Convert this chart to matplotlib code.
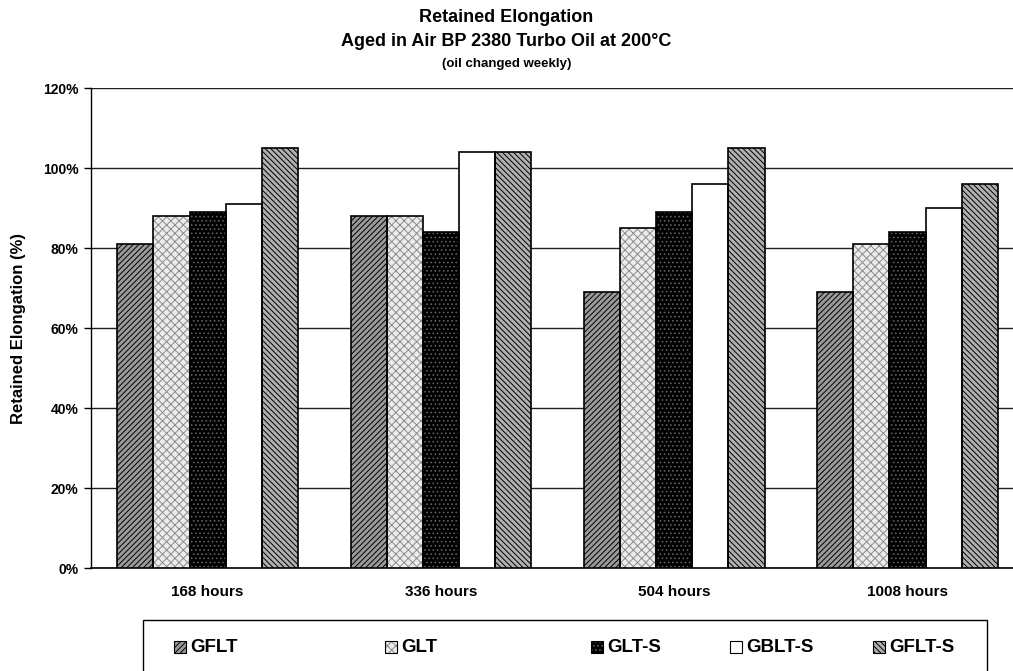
import numpy as np
import matplotlib.pyplot as plt
from matplotlib.patches import Rectangle

plt.rcParams['font.family'] = ['Liberation Sans', 'DejaVu Sans']
plt.rcParams['font.weight'] = 'bold'
plt.rcParams['hatch.linewidth'] = 0.7

# ---- data ----
categories = ["168 hours", "336 hours", "504 hours", "1008 hours"]
series = ["GFLT", "GLT", "GLT-S", "GBLT-S", "GFLT-S"]
gflt   = [81, 88, 69, 69]
glt    = [88, 88, 85, 81]
glt_s  = [89, 84, 89, 84]
gblt_s = [91, 104, 96, 90]
gflt_s = [105, 104, 105, 96]
values = [gflt, glt, glt_s, gblt_s, gflt_s]
yticks = [0, 20, 40, 60, 80, 100, 120]

# ---- styles: (face, hatch, hatch colour) ----
styles = [
    ("#9a9a9a", "//////", "#000000"),
    ("#ececec", "xxxx", "#8c8c8c"),
    ("#000000", "....", "#606060"),
    ("#ffffff", None, "#000000"),
    ("#b0b0b0", "\\\\\\\\\\\\", "#000000"),
]

W, H = 1013, 671
fig = plt.figure(figsize=(W / 100, H / 100), dpi=100)
ax = fig.add_axes([91 / W, 1 - 568 / H, (W - 91) / W, (568 - 88) / H])

x = np.arange(len(categories))
bw = 0.155
for i, (vals, (fc, hatch, hc)) in enumerate(zip(values, styles)):
    pos = x + (i - 2) * bw
    ax.bar(pos, vals, bw, color=fc, hatch=hatch, edgecolor=hc, linewidth=0, zorder=3)
    ax.bar(pos, vals, bw, fill=False, edgecolor="black", linewidth=1.2, zorder=4)

ax.set_xlim(-0.5, -0.5 + (W - 91) / 233.3)
ax.set_ylim(0, 120)
ax.set_yticks(yticks)
ax.set_yticklabels([f"{t}%" for t in yticks])
ax.set_xticks(x)
ax.set_xticklabels(categories)
ax.tick_params(axis="x", length=0, pad=12, labelsize=11)
ax.tick_params(axis="y", length=5, width=1, direction="out", labelsize=10, pad=4)
ax.grid(axis="y", color="#202020", linewidth=1.0, zorder=1)
ax.set_axisbelow(True)
for s in ["top", "right"]:
    ax.spines[s].set_visible(False)
ax.spines["left"].set_linewidth(1.0)
ax.spines["bottom"].set_linewidth(1.2)
ax.set_ylabel("Retained Elongation (%)", fontsize=12, fontweight="bold", labelpad=12)

# ---- titles ----
fig.text(0.5, 1 - 18 / H, "Retained Elongation", ha="center", va="center", fontsize=13, fontweight="bold")
fig.text(0.5, 1 - 42 / H, "Aged in Air BP 2380 Turbo Oil at 200°C", ha="center", va="center", fontsize=13, fontweight="bold")
fig.text(0.5, 1 - 64 / H, "(oil changed weekly)", ha="center", va="center", fontsize=9.5, fontweight="bold")

# ---- legend (manual, uneven spacing as in the original) ----
fig.add_artist(Rectangle((143 / W, -0.01), (987 - 143) / W, 0.01 + 1 - 620 / H,
                         transform=fig.transFigure, fill=False, edgecolor="black", linewidth=1.0))
leg_x = [174, 385, 591, 730, 873]
for lx, name, (fc, hatch, hc) in zip(leg_x, series, styles):
    y0 = 647
    fig.add_artist(Rectangle((lx / W, 1 - (y0 + 6) / H), 12 / W, 12 / H, transform=fig.transFigure,
                             facecolor=fc, hatch=hatch, edgecolor=hc, linewidth=0))
    fig.add_artist(Rectangle((lx / W, 1 - (y0 + 6) / H), 12 / W, 12 / H, transform=fig.transFigure,
                             fill=False, edgecolor="black", linewidth=0.8))
    fig.text((lx + 16) / W, 1 - y0 / H, name, ha="left", va="center", fontsize=13.5, fontweight="bold")

fig.savefig("out.png", dpi=100)
